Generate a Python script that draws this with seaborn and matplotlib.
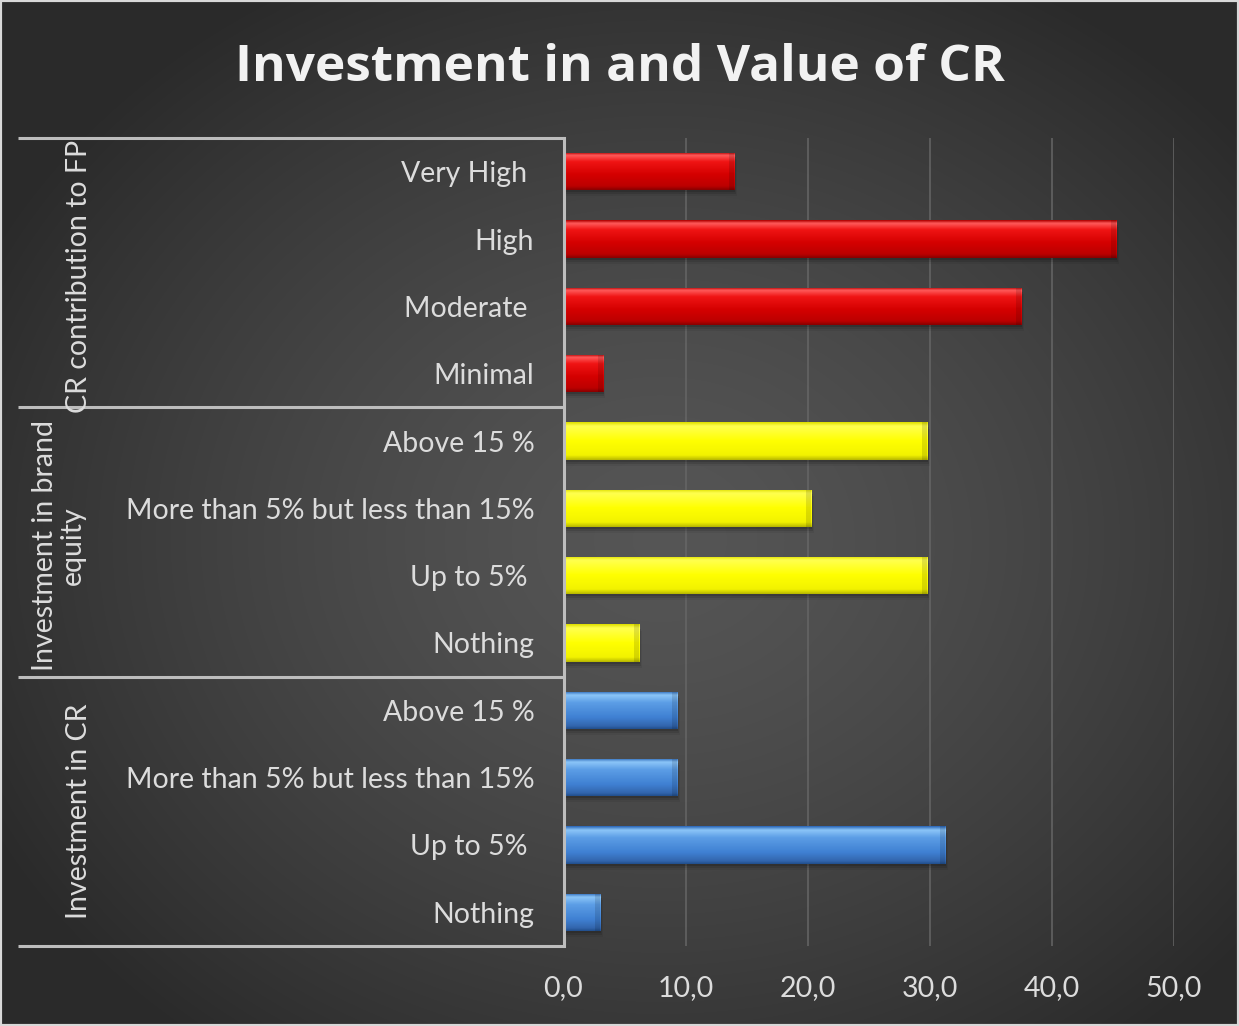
import numpy as np
import pandas as pd
import matplotlib
matplotlib.use("Agg")
import matplotlib.pyplot as plt
from matplotlib.colors import to_rgb
from matplotlib.patches import Rectangle
from matplotlib.transforms import blended_transform_factory
import seaborn as sns

# ---- data -------------------------------------------------------------
groups = ["CR contribution to FP", "Investment in brand\nequity", "Investment in CR"]

fp_labels = ["Very High ", "High", "Moderate ", "Minimal"]
fp_values = [14.0, 45.3, 37.5, 3.2]

brand_labels = ["Above 15 %", "More than 5% but less than 15%", "Up to 5% ", "Nothing"]
brand_values = [29.8, 20.3, 29.8, 6.2]

cr_labels = ["Above 15 %", "More than 5% but less than 15%", "Up to 5% ", "Nothing"]
cr_values = [9.3, 9.3, 31.3, 3.0]

x_ticks = [0, 10, 20, 30, 40, 50]
x_tick_labels = ["0,0", "10,0", "20,0", "30,0", "40,0", "50,0"]

title = "Investment in and Value of CR"

group_colors = ["#d80000", "#ffff00", "#3d7fd2"]
bar_shading = {
    "#d80000": [(0.0, "#b00000"), (0.08, "#ff5a5a"), (0.25, "#f01414"),
                (0.6, "#d40000"), (0.9, "#bc0000"), (1.0, "#8a0000")],
    "#ffff00": [(0.0, "#e0e000"), (0.1, "#ffff50"), (0.5, "#ffff00"),
                (0.88, "#f2f200"), (1.0, "#b8b800")],
    "#3d7fd2": [(0.0, "#2c68b8"), (0.1, "#8cc6f8"), (0.3, "#5c9ee6"),
                (0.7, "#3f80d2"), (0.92, "#3366ae"), (1.0, "#22508e")],
}

# ---- table ------------------------------------------------------------
label_sets = [fp_labels, brand_labels, cr_labels]
value_sets = [fp_values, brand_values, cr_values]
rows = []
for gi, (labs, vals) in enumerate(zip(label_sets, value_sets)):
    for li, (lab, val) in enumerate(zip(labs, vals)):
        rows.append({"key": f"{gi}-{li}", "label": lab, "value": val,
                     "group": groups[gi], "color": group_colors[gi]})
df = pd.DataFrame(rows)

# ---- figure -----------------------------------------------------------
sns.set_theme(style="dark")
plt.rcParams["font.family"] = ["Lato", "DejaVu Sans"]

W, H = 1239, 1026
fig = plt.figure(figsize=(W / 100, H / 100), dpi=100)

# dark radial background
bg = fig.add_axes([0, 0, 1, 1], zorder=-5)
yy, xx = np.mgrid[0:H, 0:W]
r = np.sqrt(((xx - 660) / 760.0) ** 2 + ((yy - 540) / 640.0) ** 2)
shade = np.clip(0.335 - 0.17 * r ** 1.4, 0.165, 0.34)
bg.imshow(np.dstack([shade] * 3), extent=(0, 1, 0, 1), aspect="auto")
bg.set_axis_off()

ax_left, ax_right, ax_top, ax_bottom = 563.5, 1173.5, 138, 946
ax = fig.add_axes([ax_left / W, 1 - ax_bottom / H,
                   (ax_right - ax_left) / W, (ax_bottom - ax_top) / H])
ax.set_facecolor("none")

sns.barplot(data=df, x="value", y="key", hue="group",
            palette=dict(zip(groups, group_colors)), dodge=False,
            width=0.55, orient="h", saturation=1, legend=False, ax=ax)

ax.set_xlim(0, 50)
ax.set_ylim(11.5, -0.5)


def ramp(stops, n=64):
    pos = np.array([s[0] for s in stops])
    cols = np.array([to_rgb(s[1]) for s in stops])
    t = np.linspace(0, 1, n)
    return np.stack([np.interp(t, pos, cols[:, k]) for k in range(3)], axis=1)


# bevelled look: soft shadow + vertical shading clipped to every bar
bar_patches = [p for p in ax.patches if p.get_width() > 0]
for p, color in zip(bar_patches, df["color"]):
    x0, y0, w, h = p.get_x(), p.get_y(), p.get_width(), p.get_height()
    p.set_edgecolor("none")
    for off, extra, a in [(0.03, 0.08, 0.14), (0.06, 0.16, 0.10), (0.09, 0.24, 0.06)]:
        ax.add_patch(Rectangle((x0, y0 + off), w + extra, h, color="black",
                               alpha=a, lw=0, zorder=p.get_zorder() - 0.1))
    grad = ramp(bar_shading[color])[:, None, :]
    im = ax.imshow(grad, extent=(x0, x0 + w, y0 + h, y0), aspect="auto",
                   zorder=p.get_zorder() + 0.1, interpolation="bilinear")
    im.set_clip_path(p)
    # slightly darker facet at the bar end
    ax.add_patch(Rectangle((x0 + w - 0.4, y0), 0.4, h, color="black",
                           alpha=0.12, lw=0, zorder=p.get_zorder() + 0.2))

ax.set_xlim(0, 50)
ax.set_ylim(11.5, -0.5)

# ---- axes styling -----------------------------------------------------
text_color = "#dcdcdc"
line_color = "#bdbdbd"
label_size = 20.5

ax.set_xticks(x_ticks)
ax.set_xticklabels(x_tick_labels)
ax.set_yticks(range(len(df)))
ax.set_yticklabels(df["label"])
ax.set_xlabel("")
ax.set_ylabel("")
ax.tick_params(axis="x", length=0, pad=21, labelsize=label_size, labelcolor=text_color)
ax.tick_params(axis="y", length=0, pad=21, labelsize=label_size, labelcolor=text_color)

ax.xaxis.grid(True, color="#666666", lw=1.1)
ax.yaxis.grid(False)
ax.set_axisbelow(True)
for side in ["top", "right", "bottom"]:
    ax.spines[side].set_visible(False)
ax.spines["left"].set_color(line_color)
ax.spines["left"].set_linewidth(2.2)
ax.spines["left"].set_zorder(10)

# multi-level category table on the left
trans = blended_transform_factory(ax.transAxes, ax.transData)
table_left = (18 - ax_left) / (ax_right - ax_left)
for yb in [-0.5, 3.5, 7.5, 11.5]:
    ax.plot([table_left, 0], [yb, yb], transform=trans, color=line_color,
            lw=2.2, clip_on=False, solid_capstyle="butt")

group_x = [(79 - ax_left) / (ax_right - ax_left),
           (59 - ax_left) / (ax_right - ax_left),
           (79 - ax_left) / (ax_right - ax_left)]
group_y = [1.55, 5.55, 9.5]
for g, gx, gy in zip(groups, group_x, group_y):
    ax.text(gx, gy, g, transform=trans, rotation=90, ha="center", va="center",
            multialignment="center", fontsize=label_size, color=text_color,
            linespacing=1.1)

# ---- title and frame --------------------------------------------------
fig.text(0.5, 1 - 68 / H, title, ha="center", va="center", fontsize=37,
         fontweight="bold", color="#f2f2f2", family=["Open Sans", "DejaVu Sans"])

fig.patches.append(Rectangle((0, 0), 1, 1, transform=fig.transFigure,
                             fill=False, ec="#d8d8d8", lw=3))

fig.savefig("out.png", dpi=100)
